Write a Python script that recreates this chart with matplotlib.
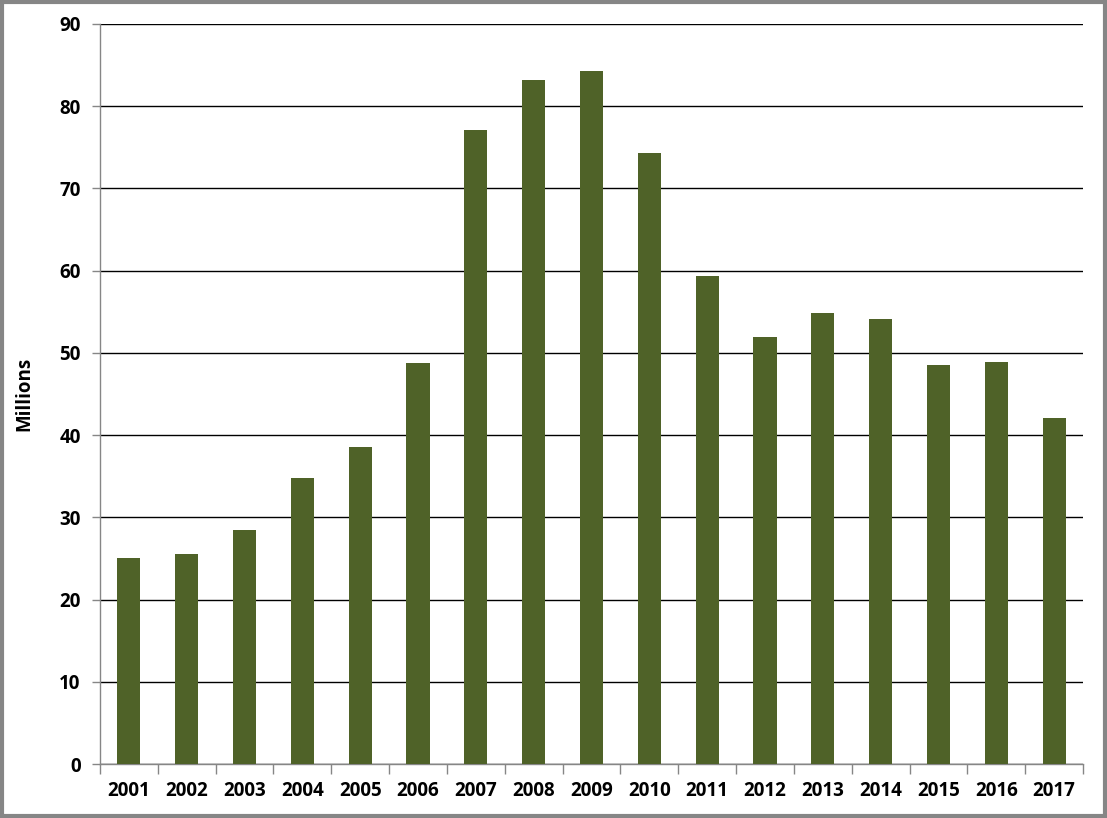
import numpy as np
import matplotlib
matplotlib.use('Agg')
import matplotlib.pyplot as plt
from matplotlib.patches import Rectangle

# Data
years = ['2001', '2002', '2003', '2004', '2005', '2006', '2007', '2008', '2009',
         '2010', '2011', '2012', '2013', '2014', '2015', '2016', '2017']
values = [25.1, 25.6, 28.5, 34.8, 38.6, 48.8, 77.1, 83.2, 84.3,
          74.3, 59.4, 51.9, 54.8, 54.1, 48.5, 48.9, 42.1]

plt.rcParams['font.family'] = ['Open Sans', 'DejaVu Sans']
plt.rcParams['font.weight'] = 'bold'

fig = plt.figure(figsize=(11.07, 8.18), dpi=100)
ax = fig.add_axes([100 / 1107, (818 - 764) / 818, 983 / 1107, 740 / 818])

x = np.arange(len(years))
ax.bar(x, values, width=0.4, color='#4F6228', zorder=3)

ax.set_xlim(-0.5, len(years) - 0.5)
ax.set_ylim(0, 90)
ax.set_yticks(range(0, 91, 10))
ax.yaxis.grid(True, color='black', linewidth=1.0, zorder=1)

# category labels centered, tick marks between categories
ax.set_xticks(x)
ax.set_xticklabels(years, fontsize=13.5, fontweight='bold')
ax.tick_params(axis='x', length=0, pad=12)
ax.set_xticks(np.arange(-0.5, len(years)), minor=True)
ax.tick_params(axis='x', which='minor', length=7, color='#868686', width=1)
ax.tick_params(axis='y', length=6, color='#868686', width=1, labelsize=13.5, pad=8)
for lab in ax.get_yticklabels():
    lab.set_fontweight('bold')

for side in ['top', 'right']:
    ax.spines[side].set_visible(False)
for side in ['left', 'bottom']:
    ax.spines[side].set_color('#868686')
    ax.spines[side].set_linewidth(1)

ax.set_ylabel('Millions', fontsize=13.5, fontweight='bold', labelpad=18)

# outer border
fig.patches.append(Rectangle((0.0015, 0.002), 0.997, 0.996, transform=fig.transFigure,
                             fill=False, edgecolor='#868686', linewidth=3))

fig.savefig('out.png', dpi=100)
